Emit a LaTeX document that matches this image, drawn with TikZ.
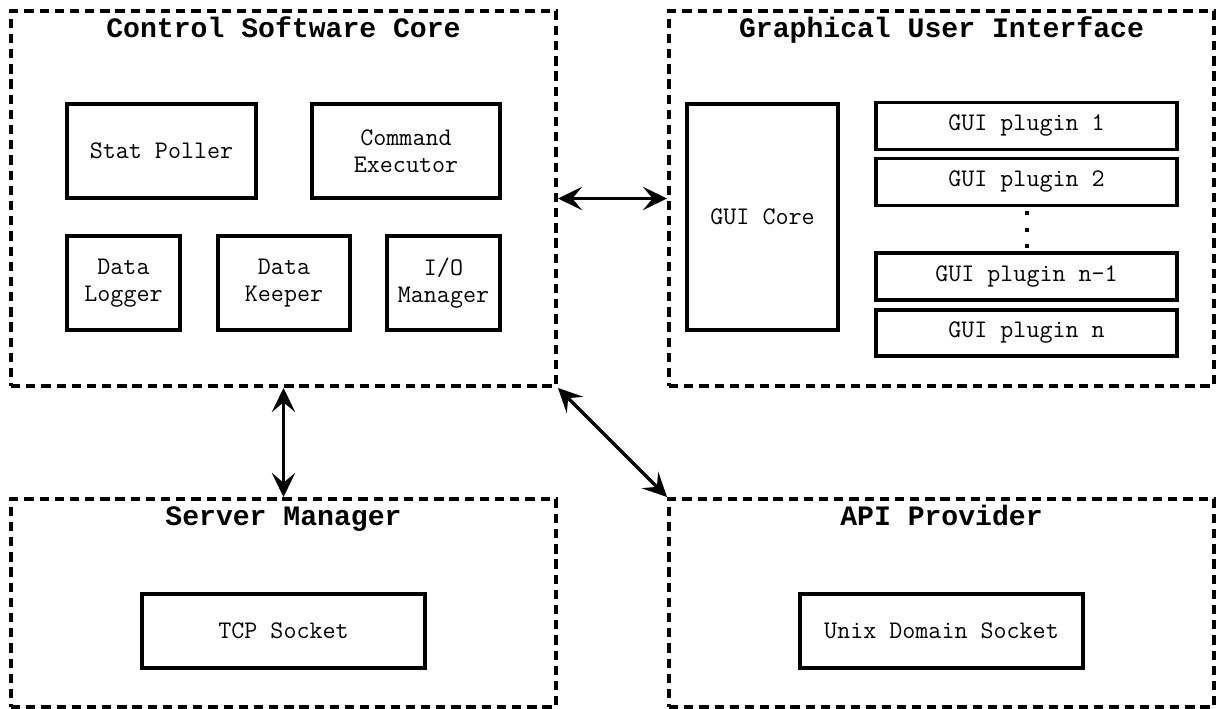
\documentclass[tikz,border=0pt]{standalone}
\usepackage{fontspec}
\newfontfamily\headfont{Liberation Mono}
\usetikzlibrary{arrows.meta}

\begin{document}
\begin{tikzpicture}[every node/.style={font=\ttfamily\fontsize{18}{19.2}\selectfont,align=center},
  group/.style={draw,line width=2.8pt,dash pattern=on 6.6pt off 4.2pt,minimum width=13.625cm},
  unit/.style={draw,line width=2.8pt},
  title/.style={font=\headfont\bfseries\fontsize{20}{24}\selectfont,anchor=base},
  link/.style={line width=2.5pt,{Stealth[length=6mm,width=5.8mm,inset=2.4mm]}-{Stealth[length=6mm,width=5.8mm,inset=2.4mm]}}]
\useasboundingbox (0,0) rectangle (30.475,-17.725);

\node[group,minimum height=9.375cm] (core) at (7.0875,-4.9625) {};
\node[group,minimum height=9.375cm] (gui) at (23.5375,-4.9625) {};
\node[group,minimum height=5.2cm] (server) at (7.0875,-15.075) {};
\node[group,minimum height=5.2cm] (api) at (23.5375,-15.075) {};

\node[title] (coret) at ([yshift=-0.72cm]core.north) {Control Software Core};
\node[title] (guit) at ([yshift=-0.72cm]gui.north) {Graphical User Interface};
\node[title] (servert) at ([yshift=-0.72cm]server.north) {Server Manager};
\node[title] (apit) at ([yshift=-0.72cm]api.north) {API Provider};

% control software core
\node[unit,minimum width=4.725cm,minimum height=2.35cm] (poller) at (4.0375,-3.775) {Stat Poller};
\node[unit,minimum width=4.7cm,minimum height=2.35cm] (executor) at (10.15,-3.775) {Command\\Executor};
\node[unit,minimum width=2.825cm,minimum height=2.35cm] (logger) at (3.0875,-7.075) {Data\\Logger};
\node[unit,minimum width=3.3cm,minimum height=2.35cm] (keeper) at (7.1,-7.075) {Data\\Keeper};
\node[unit,minimum width=2.825cm,minimum height=2.35cm] (iomgr) at (11.0875,-7.075) {I/O\\Manager};

% gui
\node[unit,minimum width=3.775cm,minimum height=5.65cm] (guicore) at (19.0625,-5.425) {GUI Core};
\node[unit,minimum width=7.525cm,minimum height=1.175cm] (p1) at (25.6625,-3.15) {GUI plugin 1};
\node[unit,minimum width=7.525cm,minimum height=1.175cm] (p2) at (25.6625,-4.55) {GUI plugin 2};
\node[unit,minimum width=7.525cm,minimum height=1.175cm] (pn1) at (25.6625,-6.9125) {GUI plugin n-1};
\node[unit,minimum width=7.525cm,minimum height=1.15cm] (pn) at (25.6625,-8.325) {GUI plugin n};
\draw[line width=0.1cm,dash pattern=on 0.1cm off 0.31cm,shorten <=0.1cm] (p2.south) -- (pn1.north);

% sockets
\node[unit,minimum width=7.075cm,minimum height=1.85cm] (tcp) at (7.0875,-15.775) {TCP Socket};
\node[unit,minimum width=7.075cm,minimum height=1.85cm] (unix) at (23.5375,-15.775) {Unix Domain Socket};

\draw[link] (core.east) -- (gui.west);
\draw[link] (core.south) -- (server.north);
\draw[link] (core.south east) -- (api.north west);
\end{tikzpicture}
\end{document}
